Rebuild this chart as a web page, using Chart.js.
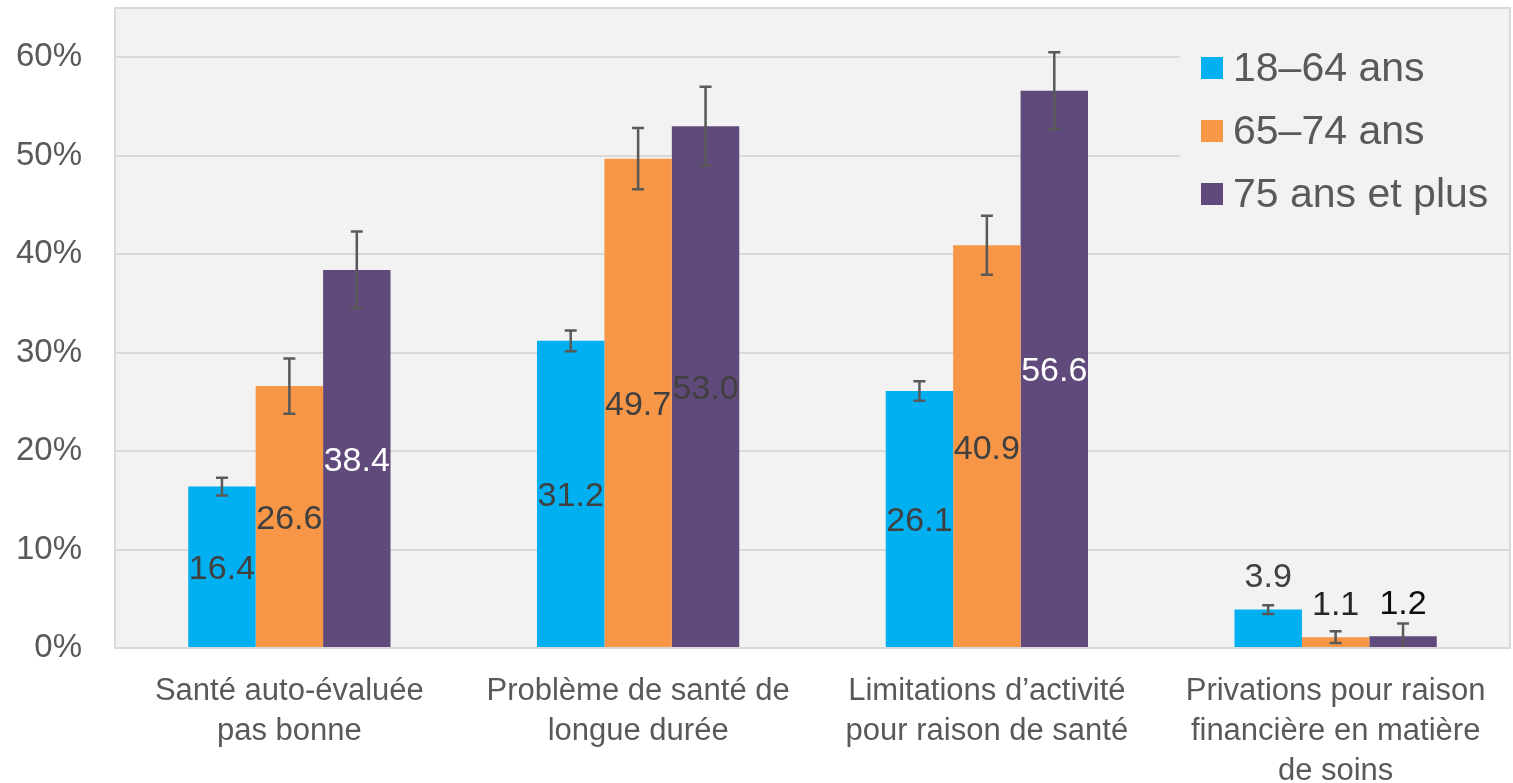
<!DOCTYPE html>
<html>
<head>
<meta charset="utf-8">
<script src="https://cdn.jsdelivr.net/npm/chart.js@4"></script>
<style>
  html, body { margin: 0; padding: 0; background: #ffffff; }
  #wrap { width: 1513px; height: 783px; }
</style>
</head>
<body>
<div id="wrap"><canvas id="chart" width="1513" height="783"></canvas></div>
<script>
// categories (x axis, multi-line)
var categories = [
    ['Santé auto-évaluée', 'pas bonne'],
    ['Problème de santé de', 'longue durée'],
    ['Limitations d’activité', 'pour raison de santé'],
    ['Privations pour raison', 'financière en matière', 'de soins']
];
var seriesNames = ['18–64 ans', '65–74 ans', '75 ans et plus'];

// values in %
var v1864 = [16.4, 31.2, 26.1, 3.9];
var v6574 = [26.6, 49.7, 40.9, 1.1];
var v75plus = [38.4, 53.0, 56.6, 1.2];

// error bar half-widths
var e1864 = [0.9, 1.05, 1.0, 0.45];
var e6574 = [2.8, 3.1, 3.0, 0.6];
var e75plus = [3.9, 4.0, 3.9, 1.3];

var yTicks = [0, 10, 20, 30, 40, 50, 60];

var colors = ['#00B0F0', '#F79646', '#604A7B'];
var labelColors = [
    ['#404040', '#404040', '#404040', '#404040'],
    ['#404040', '#404040', '#404040', '#262626'],
    ['#ffffff', '#404040', '#ffffff', '#0d0d0d']
];
var errors = [e1864, e6574, e75plus];

// plot area background + frame
var plotBg = {
    id: 'plotBg',
    beforeDraw: function(chart) {
        var a = chart.chartArea, ctx = chart.ctx;
        ctx.save();
        ctx.fillStyle = '#f2f2f2';
        ctx.fillRect(a.left, a.top, a.right - a.left, a.bottom - a.top);
        ctx.restore();
    },
    afterDraw: function(chart) {
        var a = chart.chartArea, ctx = chart.ctx;
        ctx.save();
        ctx.strokeStyle = '#d9d9d9';
        ctx.lineWidth = 2;
        ctx.strokeRect(a.left, a.top, a.right - a.left, a.bottom - a.top);
        ctx.restore();
    }
};

// error bars + value labels
var barExtras = {
    id: 'barExtras',
    afterDatasetsDraw: function(chart) {
        var ctx = chart.ctx, y = chart.scales.y;
        ctx.save();
        chart.data.datasets.forEach(function(ds, i) {
            var meta = chart.getDatasetMeta(i);
            meta.data.forEach(function(bar, j) {
                var v = ds.data[j], err = errors[i][j];
                var yTop = y.getPixelForValue(v + err);
                var yBot = y.getPixelForValue(Math.max(0, v - err));
                ctx.strokeStyle = '#595959';
                ctx.lineWidth = 2.5;
                ctx.beginPath();
                ctx.moveTo(bar.x, yTop); ctx.lineTo(bar.x, yBot);
                ctx.moveTo(bar.x - 6, yTop); ctx.lineTo(bar.x + 6, yTop);
                if (v - err > 0) {
                    ctx.moveTo(bar.x - 6, yBot); ctx.lineTo(bar.x + 6, yBot);
                }
                ctx.stroke();

                ctx.fillStyle = labelColors[i][j];
                ctx.font = '34px "Liberation Sans", Arial, sans-serif';
                ctx.textAlign = 'center';
                ctx.textBaseline = 'middle';
                var ly;
                if (v < 10) {
                    ly = bar.y - 32;
                } else {
                    ly = (bar.y + bar.base) / 2 + 3;
                }
                ctx.fillText(v.toFixed(1), bar.x, ly);
            });
        });
        ctx.restore();
    }
};

// legend drawn over the grid at top-right of the plot
var boxLegend = {
    id: 'boxLegend',
    afterDatasetsDraw: function(chart) {
        var a = chart.chartArea, ctx = chart.ctx;
        var x0 = 1180;
        ctx.save();
        ctx.fillStyle = '#f2f2f2';
        ctx.fillRect(x0, a.top + 1, a.right - x0 - 1, 222);
        ctx.font = '41px "Liberation Sans", Arial, sans-serif';
        ctx.textBaseline = 'middle';
        ctx.textAlign = 'left';
        chart.data.datasets.forEach(function(ds, i) {
            var cy = 68 + i * 63;
            ctx.fillStyle = ds.backgroundColor;
            ctx.fillRect(1201, cy - 11, 22, 22);
            ctx.fillStyle = '#595959';
            ctx.fillText(ds.label, 1233, cy + 2);
        });
        ctx.restore();
    }
};

var ctx = document.getElementById('chart').getContext('2d');
var chart = new Chart(ctx, {
    type: 'bar',
    data: {
        labels: categories,
        datasets: [
            { label: seriesNames[0], data: v1864, backgroundColor: colors[0] },
            { label: seriesNames[1], data: v6574, backgroundColor: colors[1] },
            { label: seriesNames[2], data: v75plus, backgroundColor: colors[2] }
        ]
    },
    options: {
        responsive: false,
        animation: false,
        devicePixelRatio: 1,
        layout: { padding: { top: 8, right: 3, left: 0, bottom: 0 } },
        datasets: {
            bar: { categoryPercentage: 0.58, barPercentage: 1.0, borderWidth: 0 }
        },
        plugins: {
            legend: { display: false },
            tooltip: { enabled: false }
        },
        scales: {
            x: {
                grid: { display: false },
                border: { display: false },
                ticks: {
                    color: '#595959',
                    font: { family: '"Liberation Sans", Arial, sans-serif', size: 31, lineHeight: 1.3 },
                    padding: 15,
                    maxRotation: 0,
                    autoSkip: false
                },
                afterFit: function(s) { s.height = 135; s.paddingTop = 0; s.paddingBottom = 0; }
            },
            y: {
                min: 0,
                max: 65,
                border: { display: false },
                grid: { color: '#d9d9d9', lineWidth: 2, drawTicks: false },
                afterBuildTicks: function(s) {
                    s.ticks = yTicks.map(function(t) { return { value: t }; });
                },
                ticks: {
                    color: '#595959',
                    font: { family: '"Liberation Sans", Arial, sans-serif', size: 33 },
                    padding: 33,
                    callback: function(v) { return v + '%'; }
                },
                afterFit: function(s) { s.width = 115; s.paddingTop = 0; s.paddingBottom = 0; }
            }
        }
    },
    plugins: [plotBg, barExtras, boxLegend]
});
</script>
</body>
</html>
